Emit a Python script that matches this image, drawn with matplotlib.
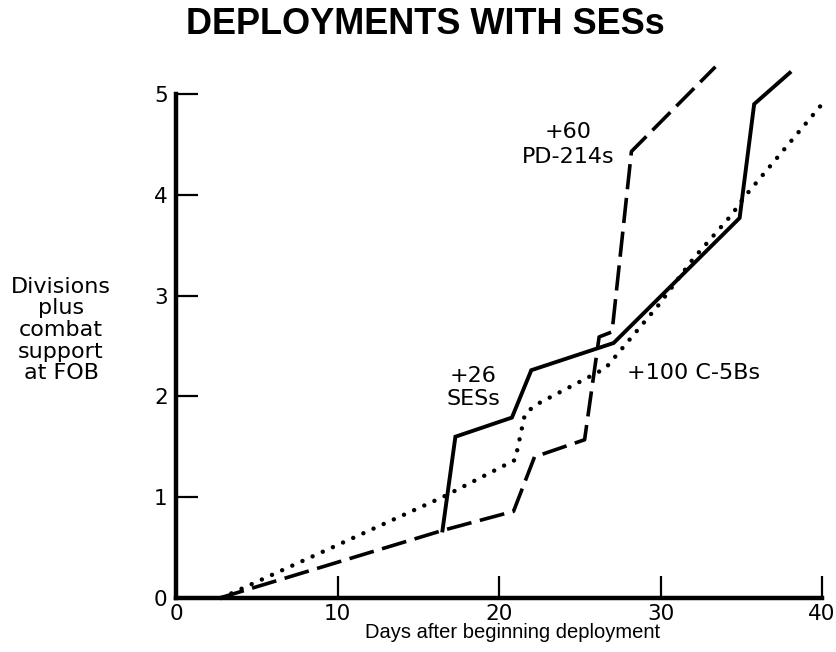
import matplotlib
matplotlib.use("Agg")
import matplotlib.pyplot as plt

plt.rcParams['font.family'] = ['DejaVu Sans']

# Baseline / +60 PD-214s (dashed)
dash_x = [2.7, 16.5, 20.9, 22.2, 25.3, 26.2, 27.0, 28.2, 33.4]
dash_y = [0.0, 0.67, 0.86, 1.40, 1.57, 2.59, 2.64, 4.43, 5.27]

# +26 SESs (solid)
ses_x = [16.5, 17.3, 20.8, 22.0, 27.1, 34.9, 35.8, 38.0]
ses_y = [0.67, 1.60, 1.79, 2.26, 2.53, 3.77, 4.90, 5.21]

# +100 C-5Bs (dotted)
c5_x = [2.8, 16.5, 21.0, 21.6, 22.2, 25.3, 26.6, 29.9, 32.0, 34.4, 35.2, 39.9]
c5_y = [0.0, 1.00, 1.37, 1.82, 1.91, 2.17, 2.28, 2.91, 3.36, 3.80, 3.98, 4.88]

x_ticks = [0, 10, 20, 30, 40]
y_ticks = [0, 1, 2, 3, 4, 5]

fig = plt.figure(figsize=(8.36, 6.52), dpi=100)
ax = fig.add_axes([176/836, 54/652, 646/836, 504/652])
ax.set_xlim(0, 40)
ax.set_ylim(0, 5)

ax.plot(dash_x, dash_y, color='black', lw=2.6, linestyle=(0, (7, 2.4)),
        solid_capstyle='butt', clip_on=False)
ax.plot(ses_x, ses_y, color='black', lw=2.8, clip_on=False,
        solid_joinstyle='miter')
ax.plot(c5_x, c5_y, color='black', lw=3.2, linestyle=(0, (0.01, 2.5)),
        dash_capstyle='round', clip_on=False)

for s in ['top', 'right']:
    ax.spines[s].set_visible(False)
for s in ['left', 'bottom']:
    ax.spines[s].set_linewidth(3.2)

ax.set_xticks(x_ticks)
ax.set_yticks(y_ticks)
ax.tick_params(direction='in', length=16, width=1.6, labelsize=15.5, pad=4)
ax.tick_params(axis='y', pad=6)

fig.text(513/836, 1 - 633/652, 'Days after beginning deployment',
         ha='center', va='center', fontsize=14.5, family='Liberation Sans')

fig.text(61/836, 1 - 330/652, 'Divisions\nplus\ncombat\nsupport\nat FOB',
         ha='center', va='center', fontsize=16, linespacing=1.1)

fig.text(425/836, 1 - 25/652, 'DEPLOYMENTS WITH SESs', ha='center',
         va='center', fontsize=26, fontweight='bold', family='Liberation Sans')

ax.text(24.3, 4.50, '+60\nPD-214s', ha='center', va='center', fontsize=16,
        linespacing=1.3)
ax.text(18.4, 2.09, '+26\nSESs', ha='center', va='center', fontsize=16,
        linespacing=1.18)
ax.text(27.9, 2.23, '+100 C-5Bs', ha='left', va='center', fontsize=16)

fig.savefig('out.png', dpi=100)
